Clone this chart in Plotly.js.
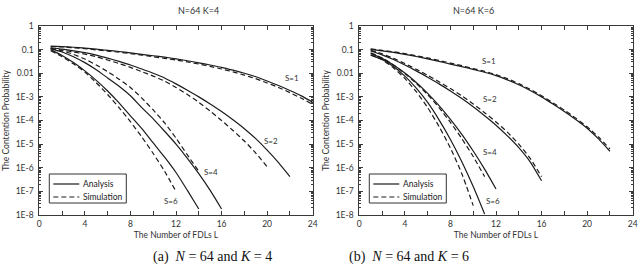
<!DOCTYPE html>
<html>
<head>
<meta charset="utf-8">
<script src="https://cdn.plot.ly/plotly-3.0.1.min.js"></script>
<style>
  html, body { margin: 0; padding: 0; background: #fff; }
  #chart { width: 642px; height: 266px; }
</style>
</head>
<body>
<div id="chart"></div>
<script>
// Number of FDLs L (x values); each series uses the first n entries
const fdl = [1,2,3,4,5,6,7,8,9,10,11,12,13,14,15,16,17,18,19,20,21,22,23,24];

// ---- N=64, K=4 : contention probability ----
const k4_s1_analysis = [0.141,0.135,0.126,0.115,0.105,0.0933,0.0832,0.0724,0.0631,0.055,0.0479,0.0407,0.0339,0.0275,0.0224,0.0178,0.0135,0.01,0.00708,0.00468,0.00302,0.00186,0.0011,6.0e-4];
const k4_s1_simulation = [0.135,0.129,0.12,0.11,0.0977,0.0871,0.0776,0.0676,0.0589,0.0501,0.0427,0.0363,0.0302,0.0245,0.0195,0.0151,0.0115,0.00832,0.00589,0.00389,0.00251,0.00151,8.7e-4,4.8e-4];
const k4_s2_analysis = [0.12,0.105,0.0891,0.0741,0.0589,0.0437,0.0316,0.0224,0.0151,0.01,0.00631,0.00355,0.00191,0.001,5.0e-4,2.4e-4,1.07e-4,4.5e-5,1.7e-5,5.6e-6,1.66e-6,4.2e-7];
const k4_s2_simulation = [0.112,0.0955,0.0794,0.0646,0.0501,0.0363,0.0257,0.0178,0.0117,0.00759,0.00468,0.00251,0.00126,5.9e-4,2.5e-4,1.0e-4,3.8e-5,1.35e-5,4.2e-6,1.1e-6];
const k4_s4_analysis = [0.107,0.0794,0.0501,0.0282,0.0141,0.00631,0.00282,0.00112,3.5e-4,1.17e-4,3.5e-5,1.0e-5,2.5e-6,5.6e-7,1.1e-7,1.8e-8];
const k4_s4_simulation = [0.112,0.0891,0.0631,0.0398,0.0224,0.0117,0.00562,0.00251,8.9e-4,2.8e-4,7.9e-5,1.8e-5,3.5e-6,7.1e-7];
const k4_s6_analysis = [0.1,0.0562,0.0282,0.0126,0.00501,0.00178,5.6e-4,1.58e-4,4.5e-5,1.12e-5,2.8e-6,6.3e-7,1.1e-7,1.8e-8];
const k4_s6_simulation = [0.0891,0.0501,0.0251,0.0112,0.00398,0.00126,3.5e-4,8.9e-5,2.0e-5,4.0e-6,7.1e-7,1.0e-7];

// ---- N=64, K=6 : contention probability ----
const k6_s1_analysis = [0.102,0.0891,0.0759,0.0631,0.0513,0.0407,0.0316,0.0245,0.0191,0.0145,0.011,0.00794,0.00525,0.00324,0.00186,0.001,5.0e-4,2.4e-4,1.1e-4,4.7e-5,1.66e-5,5.0e-6];
const k6_s1_simulation = [0.107,0.0933,0.0813,0.0676,0.055,0.0447,0.0347,0.0269,0.0209,0.0158,0.012,0.0087,0.00589,0.00363,0.00209,0.00112,5.6e-4,2.75e-4,1.26e-4,5.4e-5,2.0e-5,6.3e-6];
const k6_s2_analysis = [0.0871,0.0603,0.038,0.0224,0.0126,0.00676,0.00355,0.00178,8.5e-4,3.8e-4,1.58e-4,6.3e-5,2.24e-5,7.1e-6,1.78e-6,2.8e-7];
const k6_s2_simulation = [0.0933,0.0661,0.0427,0.0257,0.0148,0.00813,0.00437,0.00224,0.0011,5.0e-4,2.14e-4,8.7e-5,3.2e-5,1.0e-5,2.5e-6,4.2e-7];
const k6_s4_analysis = [0.0692,0.0427,0.0224,0.0102,0.00407,0.00141,4.3e-4,1.12e-4,2.6e-5,5.1e-6,8.7e-7,1.26e-7];
const k6_s4_simulation = [0.0741,0.0447,0.0224,0.00977,0.00372,0.00123,3.5e-4,8.3e-5,1.7e-5,3.0e-6,4.2e-7];
const k6_s6_analysis = [0.0575,0.038,0.0191,0.00759,0.00234,5.8e-4,1.07e-4,1.58e-5,1.8e-6,1.6e-7,1.1e-8];
const k6_s6_simulation = [0.0603,0.0372,0.017,0.00603,0.00166,3.5e-4,5.6e-5,6.8e-6,5.6e-7,2.5e-8];

// Curve labels: text, L position, probability position
const k4_labels = [["S=1", 22.2, 6.5e-3], ["S=2", 20.3, 1.4e-5], ["S=4", 15.1, 6.5e-7], ["S=6", 11.6, 3.9e-8]];
const k6_labels = [["S=1", 11.35, 3.3e-2], ["S=2", 11.5, 8.1e-4], ["S=4", 11.5, 4.8e-6], ["S=6", 11.75, 3.9e-8]];

// Legend entries
const legendNames = ["Analysis", "Simulation"];

// Y tick labels
const yTickVals = [1, 0.1, 0.01, 1e-3, 1e-4, 1e-5, 1e-6, 1e-7, 1e-8];
const yTickText = ["1", "0.1", "0.01", "1E-3", "1E-4", "1E-5", "1E-6", "1E-7", "1E-8"];
const xTickVals = [0, 4, 8, 12, 16, 20, 24];

const FONT = "Lato, 'Open Sans', sans-serif";
const INK = "#1c1c1c";
const AXIS = "#3a3a3a";
const W = 642, H = 266;
const px = (v) => v / W;            // horizontal pixel -> paper
const py = (v) => 1 - v / H;        // vertical pixel (from top) -> paper

function curve(values, dashed, xa, ya) {
  return {
    type: "scatter",
    mode: "lines",
    x: fdl.slice(0, values.length),
    y: values,
    xaxis: xa,
    yaxis: ya,
    showlegend: false,
    line: { color: INK, width: 1.2, dash: dashed ? "5px,3px" : "solid", shape: "spline", smoothing: 0.6 },
    hoverinfo: "skip"
  };
}

const traces = [
  curve(k4_s1_analysis, false, "x", "y"),
  curve(k4_s1_simulation, true, "x", "y"),
  curve(k4_s2_analysis, false, "x", "y"),
  curve(k4_s2_simulation, true, "x", "y"),
  curve(k4_s4_analysis, false, "x", "y"),
  curve(k4_s4_simulation, true, "x", "y"),
  curve(k4_s6_analysis, false, "x", "y"),
  curve(k4_s6_simulation, true, "x", "y"),
  curve(k6_s1_analysis, false, "x2", "y2"),
  curve(k6_s1_simulation, true, "x2", "y2"),
  curve(k6_s2_analysis, false, "x2", "y2"),
  curve(k6_s2_simulation, true, "x2", "y2"),
  curve(k6_s4_analysis, false, "x2", "y2"),
  curve(k6_s4_simulation, true, "x2", "y2"),
  curve(k6_s6_analysis, false, "x2", "y2"),
  curve(k6_s6_simulation, true, "x2", "y2")
];

// log-axis minor ticks at 2..9 of every decade
const yMinor = [];
for (let e = -8; e < 0; e++) for (let m = 2; m <= 9; m++) yMinor.push(m * Math.pow(10, e));

const tickFont = { family: FONT, size: 8.5, color: "#333" };

function xAxis(domain, anchor) {
  return {
    domain: domain, anchor: anchor, range: [0, 24],
    tickvals: xTickVals, ticks: "inside", ticklen: 4, tickcolor: AXIS,
    minor: { tickmode: "linear", tick0: 0, dtick: 2, ticks: "inside", ticklen: 4, tickcolor: AXIS },
    showline: true, linecolor: AXIS, linewidth: 1, mirror: "allticks",
    showgrid: false, zeroline: false, tickfont: tickFont, ticklabelstandoff: 1,
    title: { text: "The Number of FDLs L", font: { family: FONT, size: 8.5, color: "#333" }, standoff: 3 },
    fixedrange: true
  };
}
function yAxis(domain, anchor) {
  return {
    domain: domain, anchor: anchor, type: "log", range: [-8, 0],
    tickvals: yTickVals, ticktext: yTickText, ticks: "inside", ticklen: 4, tickcolor: AXIS,
    minor: { tickvals: yMinor, ticks: "inside", ticklen: 2, tickcolor: AXIS },
    showline: true, linecolor: AXIS, linewidth: 1, mirror: "allticks",
    showgrid: false, zeroline: false, tickfont: tickFont, ticklabelstandoff: 3,
    title: { text: "The Contention Probability", font: { family: FONT, size: 8.5, color: "#333" }, standoff: 4 },
    fixedrange: true
  };
}

const yDom = [py(215), py(26)];

const annotations = [];
const shapes = [];

function labelSet(list, xr, yr) {
  list.forEach(([t, xv, yv]) => annotations.push({
    text: t, x: xv, y: Math.log10(yv), xref: xr, yref: yr, showarrow: false,
    font: { family: FONT, size: 8, color: "#333" }
  }));
}
labelSet(k4_labels, "x", "y");
labelSet(k6_labels, "x2", "y2");

// boxed legend in the lower-left corner of each panel
function legendBox(left) {
  shapes.push({ type: "rect", xref: "paper", yref: "paper",
    x0: px(left), x1: px(left + 77), y0: py(203), y1: py(174),
    line: { color: "#333", width: 1 }, fillcolor: "#fff", layer: "above" });
  [[184, "solid"], [197, "5px,3px"]].forEach(([yy, dash], i) => {
    shapes.push({ type: "line", xref: "paper", yref: "paper",
      x0: px(left + 4), x1: px(left + 30), y0: py(yy), y1: py(yy),
      line: { color: INK, width: 1.2, dash: dash }, layer: "above" });
    annotations.push({ text: legendNames[i], x: px(left + 32), y: py(yy), xref: "paper", yref: "paper",
      xanchor: "left", yanchor: "middle", showarrow: false,
      font: { family: FONT, size: 8.5, color: "#222" } });
  });
}
legendBox(49.3);
legendBox(369.3);

// panel headings
annotations.push({ text: "N=64 K=4", x: px(176), y: py(10), xref: "paper", yref: "paper", yanchor: "middle", showarrow: false, font: { family: FONT, size: 9, color: "#333" } });
annotations.push({ text: "N=64 K=6", x: px(496), y: py(10), xref: "paper", yref: "paper", yanchor: "middle", showarrow: false, font: { family: FONT, size: 9, color: "#333" } });

// sub-figure captions
const capFont = { family: "'Liberation Serif', 'DejaVu Serif', serif", size: 14, color: "#111" };
const eq = " = ";
annotations.push({ text: "(a)&nbsp;&nbsp;<i>N</i>" + eq + "64 and <i>K</i>" + eq + "4", x: px(151), y: py(257), xref: "paper", yref: "paper", yanchor: "middle", showarrow: false, font: capFont });
annotations.push({ text: "(b)&nbsp;&nbsp;<i>N</i>" + eq + "64 and <i>K</i>" + eq + "6", x: px(471), y: py(257), xref: "paper", yref: "paper", yanchor: "middle", showarrow: false, font: capFont });

const layout = {
  width: W, height: H,
  margin: { l: 0, r: 0, t: 0, b: 0 },
  paper_bgcolor: "#fff", plot_bgcolor: "#fff",
  xaxis: xAxis([px(39.3), px(312.7)], "y"),
  yaxis: yAxis(yDom, "x"),
  xaxis2: xAxis([px(359.3), px(632.7)], "y2"),
  yaxis2: yAxis(yDom, "x2"),
  annotations: annotations,
  shapes: shapes,
  showlegend: false
};

Plotly.newPlot("chart", traces, layout, { staticPlot: true, displayModeBar: false });
</script>
</body>
</html>
